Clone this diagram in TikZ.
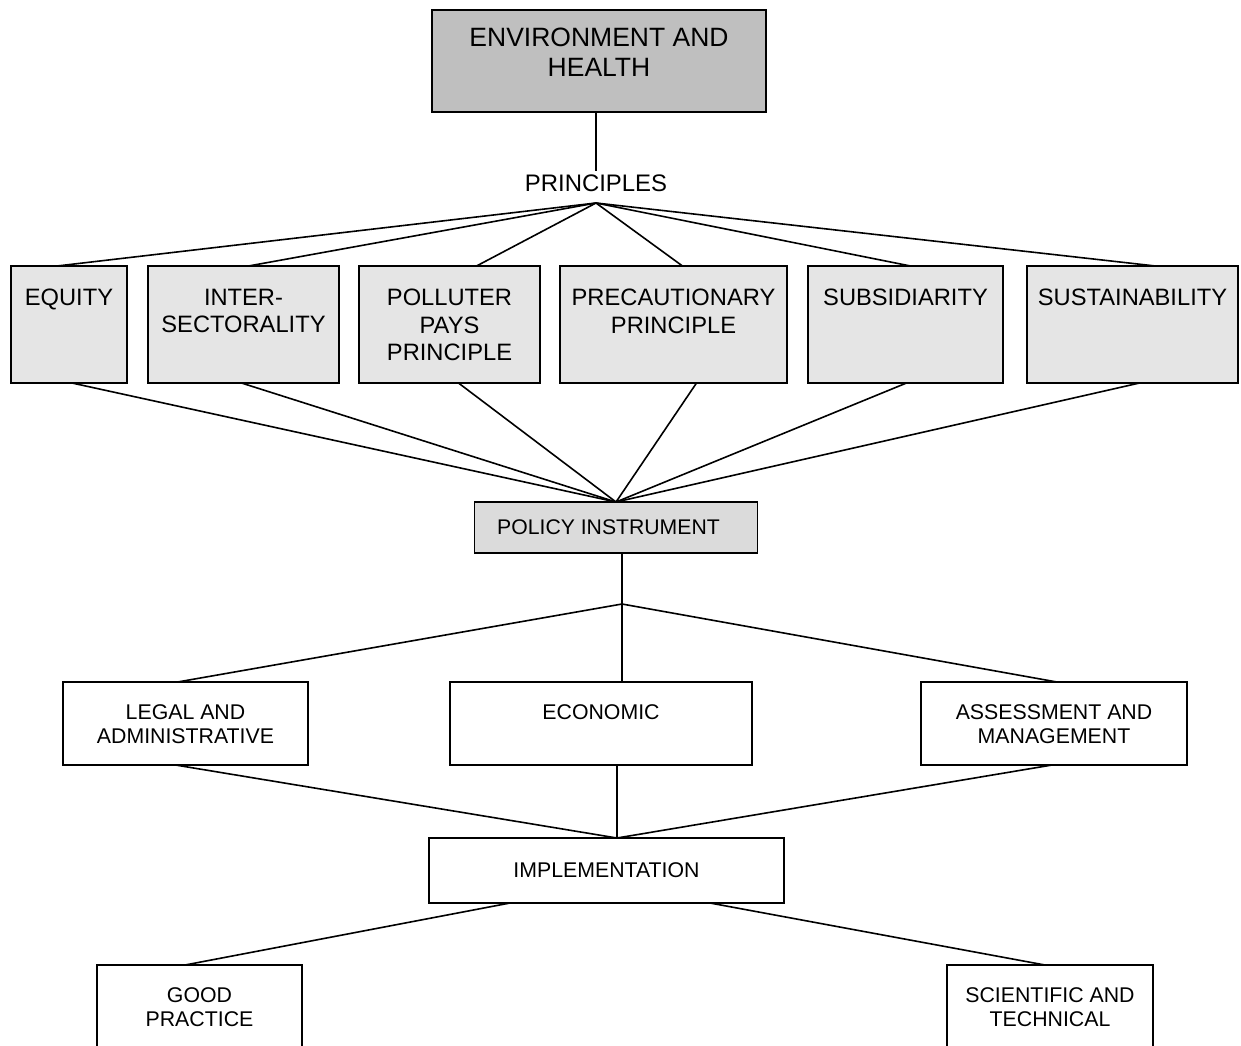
\documentclass[tikz,border=0pt]{standalone}
\usepackage{fontspec}
\setmainfont{Liberation Sans}
\usetikzlibrary{calc}
\colorlet{envgray}{black!25}
\colorlet{prgray}{black!10}
\colorlet{polgray}{black!14}
\tikzset{
  link/.style={draw=black,line width=1.6pt},
  envbox/.style={draw,line width=1.5pt,fill=envgray,inner sep=0pt,outer sep=0pt},
  prbox/.style={draw,line width=1.1pt,fill=prgray,inner sep=0pt,outer sep=0pt},
  polbox/.style={draw,line width=1.4pt,fill=polgray,inner sep=0pt,outer sep=0pt},
  wbox/.style={draw,line width=1.3pt,fill=white,inner sep=0pt,outer sep=0pt},
  toptxt/.style={anchor=north,yshift=-17.5pt,align=center,inner sep=0pt,font=\fontsize{26.5}{30}\selectfont},
  rowtxt/.style={anchor=north,yshift=-22.5pt,align=center,inner sep=0pt,font=\fontsize{23.7}{27.8}\selectfont},
  midtxt/.style={anchor=north,yshift=-22.5pt,align=center,inner sep=0pt,font=\fontsize{21.3}{24}\selectfont},
  cntxt/.style={anchor=center,align=center,inner sep=0pt,font=\fontsize{21.3}{24}\selectfont}
}
% name, box style, x1, y1, x2, y2, text style, text
\newcommand{\rbox}[8]{%
  \node[#2,minimum width={(#5-#3)*1pt},minimum height={(#6-#4)*1pt}] (#1) at ({(#3+#5)/2},{(#4+#6)/2}) {};
  \node[#7] (#1-t) at (#1.north) {#8};
}
\begin{document}
\begin{tikzpicture}[x=1pt,y=-1pt]
  \clip (0,0) rectangle (1241,1045);
  % top
  \rbox{env}{envbox}{432}{10}{766}{112}{toptxt}{ENVIRONMENT AND\\HEALTH}
  \node[inner sep=0pt,font=\fontsize{23.9}{27}\selectfont] (prin) at (596,183) {PRINCIPLES};
  \coordinate (fan1) at (596,203);
  \draw[link] ([xshift=-3pt]env.south) -- ([yshift=3pt]prin.north);
  % principles
  \rbox{eq}{prbox}{11}{266}{127}{383}{rowtxt}{EQUITY}
  \rbox{inter}{prbox}{148}{266}{339}{383}{rowtxt}{INTER-\\SECTORALITY}
  \rbox{poll}{prbox}{359}{266}{540}{383}{rowtxt}{POLLUTER\\PAYS\\PRINCIPLE}
  \rbox{prec}{prbox}{560}{266}{787}{383}{rowtxt}{PRECAUTIONARY\\PRINCIPLE}
  \rbox{subs}{prbox}{808}{266}{1003}{383}{rowtxt}{SUBSIDIARITY}
  \rbox{sust}{prbox}{1027}{266}{1238}{383}{rowtxt}{SUSTAINABILITY}
  \draw[link] (fan1) -- ([xshift=-12pt]eq.north);
  \draw[link] (fan1) -- ([xshift=5pt]inter.north);
  \draw[link] (fan1) -- ([xshift=27pt]poll.north);
  \draw[link] (fan1) -- ([xshift=9pt]prec.north);
  \draw[link] (fan1) -- ([xshift=5pt]subs.north);
  \draw[link] (fan1) -- ([xshift=23pt]sust.north);
  % policy instrument
  \node[polbox,minimum width=283pt,minimum height=51pt] (pol) at (616,527.5) {};
  \node[inner sep=0pt,anchor=west,font=\fontsize{21.2}{24}\selectfont] (pol-t) at (497,527) {POLICY INSTRUMENT};
  \draw[link] ([xshift=3pt]eq.south) -- (pol.north);
  \draw[link] ([xshift=-2pt]inter.south) -- (pol.north);
  \draw[link] ([xshift=9pt]poll.south) -- (pol.north);
  \draw[link] ([xshift=23pt]prec.south) -- (pol.north);
  \draw[link] ([xshift=1pt]subs.south) -- (pol.north);
  \draw[link] ([xshift=7pt]sust.south) -- (pol.north);
  \coordinate (fan2) at (622,604);
  \draw[link] ([xshift=6pt]pol.south) -- (fan2);
  % instruments
  \rbox{legal}{wbox}{63}{682}{308}{765}{midtxt}{LEGAL AND\\ADMINISTRATIVE}
  \rbox{econ}{wbox}{450}{682}{752}{765}{midtxt}{ECONOMIC}
  \rbox{assess}{wbox}{921}{682}{1187}{765}{midtxt}{ASSESSMENT AND\\MANAGEMENT}
  \draw[link] (fan2) -- ([xshift=-8pt]legal.north);
  \draw[link] (fan2) -- ([xshift=21pt]econ.north);
  \draw[link] (fan2) -- ([xshift=3pt]assess.north);
  % implementation
  \node[wbox,minimum width=355pt,minimum height=65pt] (impl) at (606.5,870.5) {};
  \node[cntxt] (impl-t) at (impl.center) {IMPLEMENTATION};
  \draw[link] ([xshift=-10pt]legal.south) -- ([xshift=10.5pt]impl.north);
  \draw[link] ([xshift=16pt]econ.south) -- ([xshift=10.5pt]impl.north);
  \draw[link] ([xshift=-2pt]assess.south) -- ([xshift=10.5pt]impl.north);
  % outcomes
  \rbox{good}{wbox}{97}{965}{302}{1075}{midtxt}{GOOD\\PRACTICE}
  \rbox{sci}{wbox}{947}{965}{1153}{1075}{midtxt}{SCIENTIFIC AND\\TECHNICAL}
  \draw[link] ([xshift=-96.5pt]impl.south) -- ([xshift=-14.5pt]good.north);
  \draw[link] ([xshift=103.5pt]impl.south) -- ([xshift=-5pt]sci.north);
\end{tikzpicture}
\end{document}
